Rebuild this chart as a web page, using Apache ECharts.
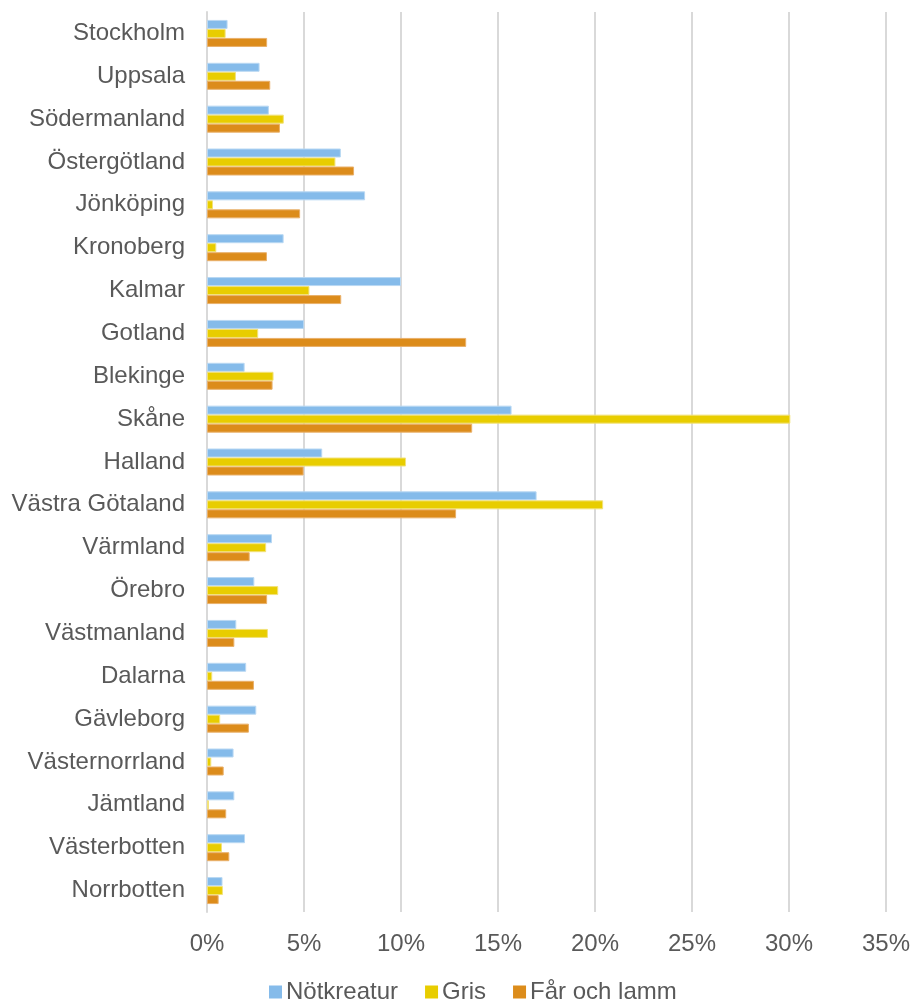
<!DOCTYPE html>
<html>
<head>
<meta charset="utf-8">
<script src="https://cdn.jsdelivr.net/npm/echarts@6/dist/echarts.min.js"></script>
<style>
html,body{margin:0;padding:0;background:#fff;}
#chart{width:913px;height:1003px;}
</style>
</head>
<body>
<div id="chart"></div>
<script>
const categories = ["Stockholm","Uppsala","Södermanland","Östergötland","Jönköping","Kronoberg","Kalmar","Gotland","Blekinge","Skåne","Halland","Västra Götaland","Värmland","Örebro","Västmanland","Dalarna","Gävleborg","Västernorrland","Jämtland","Västerbotten","Norrbotten"];
const seriesNames = ["Nötkreatur","Gris","Får och lamm"];
const notkreatur = [1.06,2.71,3.19,6.9,8.15,3.95,10.0,5.01,1.94,15.7,5.94,16.99,3.35,2.44,1.51,2.02,2.54,1.37,1.41,1.96,0.8];
const gris = [0.96,1.49,3.96,6.62,0.31,0.48,5.28,2.64,3.43,30.07,10.26,20.42,3.05,3.67,3.14,0.27,0.68,0.22,0.1,0.77,0.82];
const farOchLamm = [3.1,3.26,3.76,7.58,4.8,3.09,6.92,13.36,3.38,13.67,4.98,12.84,2.2,3.1,1.41,2.42,2.16,0.86,0.99,1.15,0.6];
const xTicks = {min:0, max:35, interval:5};

const colors = ["#85BBEA","#E8CD00","#DC8C1B"];
const borders = ["#B9D8F3","#F2E27A","#E9B06A"];
const values = [notkreatur, gris, farOchLamm];

const chart = echarts.init(document.getElementById('chart'), null, {renderer:'canvas'});
const font = '"Liberation Sans", Arial, sans-serif';
chart.setOption({
  animation:false,
  backgroundColor:'#fff',
  grid:{left:207,right:26,top:12,bottom:91,containLabel:false},
  legend:{
    left:269, top:980, padding:0,
    itemWidth:13,itemHeight:13,itemGap:27,
    icon:'rect',
    textStyle:{fontFamily:font,fontSize:24,color:'#595959',padding:[0,0,0,-1]},
    data:seriesNames.map((n,i)=>({name:n,itemStyle:{color:colors[i],borderWidth:0}}))
  },
  xAxis:{
    type:'value',min:xTicks.min,max:xTicks.max,interval:xTicks.interval,
    axisLine:{show:false},axisTick:{show:false},
    splitLine:{lineStyle:{color:'#D9D9D9',width:2}},
    axisLabel:{formatter:'{value}%',fontFamily:font,fontSize:24,color:'#595959',margin:20}
  },
  yAxis:{
    type:'category',inverse:true,data:categories,
    axisLine:{show:true,lineStyle:{color:'#D9D9D9',width:2}},
    axisTick:{show:false},
    axisLabel:{fontFamily:font,fontSize:24,color:'#595959',margin:22}
  },
  series: seriesNames.map((n,i)=>({
    name:n,type:'bar',data:values[i],barWidth:9,barGap:'0%',
    itemStyle:{color:colors[i],borderColor:borders[i],borderWidth:1},
    emphasis:{disabled:true}
  }))
});
</script>
</body>
</html>
